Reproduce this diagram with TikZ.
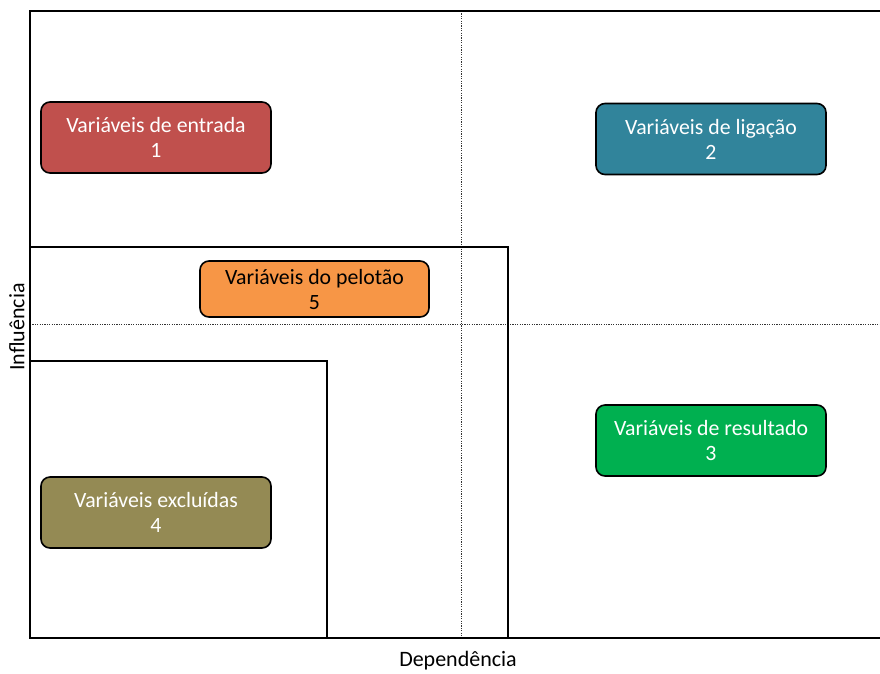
\documentclass[tikz,border=0pt]{standalone}
\usepackage{fontspec}
\setmainfont{Carlito}
\definecolor{cred}{HTML}{C0504D}
\definecolor{cblue}{HTML}{31849B}
\definecolor{cgreen}{HTML}{00B050}
\definecolor{colive}{HTML}{948A54}
\definecolor{corange}{HTML}{F79646}
\begin{document}
\begin{tikzpicture}[x=1pt,y=-1pt,
  varbox/.style={draw=black,line width=1.6pt,rounded corners=9pt,minimum width=230pt,minimum height=71pt,align=center,inner sep=0pt,font=\fontsize{21.8}{25}\selectfont,text=white},
  frame/.style={line width=1.8pt,draw=black},
  guide/.style={line width=0.6pt,draw=black!80,dash pattern=on 1.2pt off 1.2pt},
  axislabel/.style={font=\fontsize{22}{24}\selectfont,inner sep=0pt}]
\useasboundingbox (0,0) rectangle (880,673);
% guides
\coordinate (vt) at (461,11);
\coordinate (vb) at (461,638);
\coordinate (hl) at (30,324);
\coordinate (hr) at (882,324);
\draw[guide] (vt) -- (vb);
\draw[guide] (hl) -- (hr);
% frame
\coordinate (tl) at (30,11);
\coordinate (tr) at (884,11);
\coordinate (bl) at (30,638);
\coordinate (br) at (884,638);
\draw[frame] (tr) -- (tl) -- (bl) -- (br);
% inner regions
\coordinate (a1) at (30,247);
\coordinate (a2) at (508,247);
\coordinate (a3) at (508,638);
\draw[frame] (a1) -- (a2) -- (a3);
\coordinate (b1) at (30,361);
\coordinate (b2) at (327,361);
\coordinate (b3) at (327,638);
\draw[frame] (b1) -- (b2) -- (b3);
% boxes
\node[varbox,fill=cred] (n1) at (156,137.5) {Variáveis de entrada\\1};
\node[varbox,fill=cblue] (n2) at (711,139) {Variáveis de ligação\\2};
\node[varbox,fill=cgreen] (n3) at (711,440.5) {Variáveis de resultado\\3};
\node[varbox,fill=colive] (n4) at (156,512.5) {Variáveis excluídas\\4};
\node[varbox,fill=corange,text=black,minimum width=229pt,minimum height=56pt] (n5) at (314.5,289) {Variáveis do pelotão\\5};
% axis labels
\node[axislabel,rotate=90] (li) at (17,327) {Influência};
\node[axislabel] (ld) at (458,661) {Dependência};
\end{tikzpicture}
\end{document}
